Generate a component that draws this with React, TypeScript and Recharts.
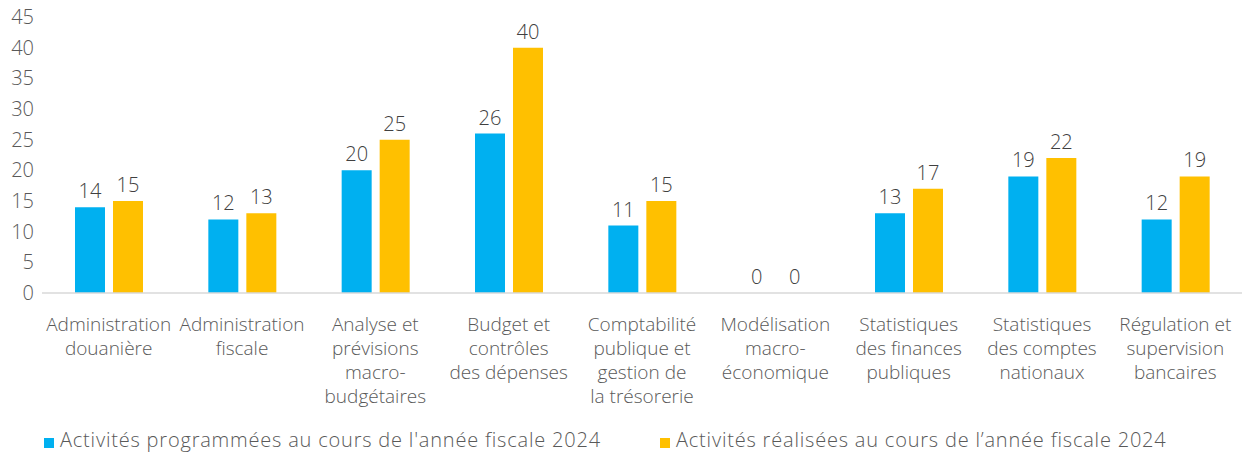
import { BarChart, Bar, XAxis, YAxis, LabelList } from "recharts";

const categories = [
  "Administration\ndouanière",
  "Administration\nfiscale",
  "Analyse et\nprévisions\nmacro-\nbudgétaires",
  "Budget et\ncontrôles\ndes dépenses",
  "Comptabilité\npublique et\ngestion de\nla trésorerie",
  "Modélisation\nmacro-\néconomique",
  "Statistiques\ndes finances\npubliques",
  "Statistiques\ndes comptes\nnationaux",
  "Régulation et\nsupervision\nbancaires",
];
const programmees = [14, 12, 20, 26, 11, 0, 13, 19, 12];
const realisees = [15, 13, 25, 40, 15, 0, 17, 22, 19];
const yTicks = [0, 5, 10, 15, 20, 25, 30, 35, 40, 45];

const seriesNames = [
  "Activités programmées au cours de l'année fiscale 2024",
  "Activités réalisées au cours de l’année fiscale 2024",
];
const BLUE = "#00B0F0";
const GOLD = "#FFC000";
const FONT = "'Open Sans', sans-serif";
const FS = 20;

const data = categories.map((c, i) => ({
  name: c,
  prog: programmees[i],
  real: realisees[i],
}));

// wrapped category label, one <text> per line
function CategoryTick(props: any) {
  const { x, y, payload } = props;
  const lines = String(payload.value).split("\n");
  return (
    <g>
      {lines.map((l, i) => (
        <text
          key={i}
          x={x}
          y={y + 30 + i * 24}
          textAnchor="middle"
          fill="#595959"
          fontSize={19}
          fontWeight={300}
          fontFamily={FONT}
        >
          {l}
        </text>
      ))}
    </g>
  );
}

function ChartLegend() {
  const items = [
    { label: seriesNames[0], color: BLUE, left: 44 },
    { label: seriesNames[1], color: GOLD, left: 660 },
  ];
  return (
    <div style={{ position: "absolute", left: 0, top: 426, width: 1248, height: 30 }}>
      {items.map((it) => (
        <div
          key={it.label}
          style={{
            position: "absolute",
            left: it.left,
            top: 0,
            display: "flex",
            alignItems: "center",
            whiteSpace: "nowrap",
            fontFamily: FONT,
            fontWeight: 300,
            fontSize: FS,
            letterSpacing: 0.8,
            color: "#595959",
          }}
        >
          <span
            style={{
              display: "inline-block",
              width: 10,
              height: 10,
              background: it.color,
              marginRight: 6,
              marginTop: 6,
            }}
          />
          {it.label}
        </div>
      ))}
    </div>
  );
}

const labelProps = {
  position: "top" as const,
  offset: 9,
  fill: "#404040",
  fontSize: FS,
  fontWeight: 300,
  fontFamily: FONT,
};

export default function App() {
  return (
    <div style={{ position: "absolute", left: 0, top: 0, width: 1248, height: 458, background: "#fff" }}>
      <BarChart
        width={1248}
        height={458}
        data={data}
        margin={{ top: 17, right: 6, bottom: 135, left: 0 }}
        barSize={30}
        barGap={8}
      >
        <XAxis
          dataKey="name"
          height={30}
          interval={0}
          tickLine={false}
          axisLine={{ stroke: "#d9d9d9", strokeWidth: 1.5 }}
          tick={<CategoryTick />}
        />
        <YAxis
          width={42}
          domain={[0, 45]}
          ticks={yTicks}
          interval={0}
          axisLine={false}
          tickLine={false}
          tickSize={0}
          tickMargin={8}
          tick={{ fill: "#595959", fontSize: FS, fontWeight: 300, fontFamily: FONT }}
        />
        <Bar
          dataKey="prog"
          fill={BLUE}
          minPointSize={(v: number) => (v === 0 ? 0.01 : 0)}
          isAnimationActive={false}
        >
          <LabelList dataKey="prog" {...labelProps} />
        </Bar>
        <Bar
          dataKey="real"
          fill={GOLD}
          minPointSize={(v: number) => (v === 0 ? 0.01 : 0)}
          isAnimationActive={false}
        >
          <LabelList dataKey="real" {...labelProps} />
        </Bar>
      </BarChart>
      <ChartLegend />
    </div>
  );
}
